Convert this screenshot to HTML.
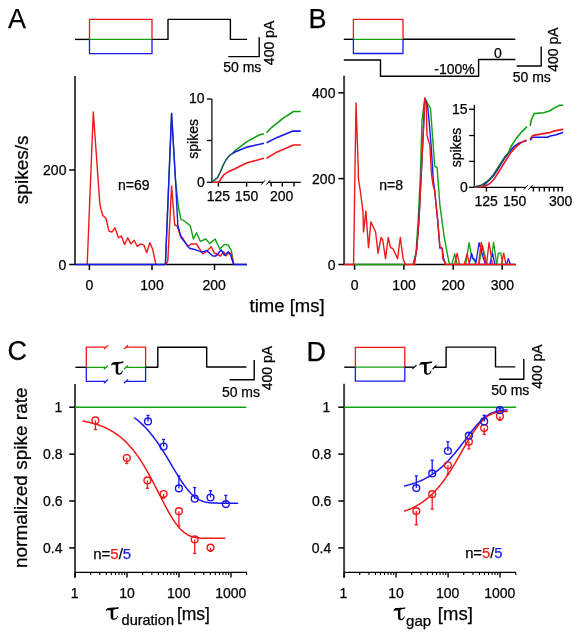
<!DOCTYPE html>
<html><head><meta charset="utf-8"><style>
html,body{margin:0;padding:0;background:#fff;}
svg{display:block;will-change:transform;}
text{font-family:"Liberation Sans",sans-serif;stroke-width:0.25px;}
path{stroke-linejoin:round;}
</style></head><body>
<svg width="580" height="637" viewBox="0 0 580 637">
<rect width="580" height="637" fill="#fff"/>
<text transform="translate(8.02,27.81) scale(1.0000,1)" font-size="27.00" fill="#000" stroke="#000">A</text>
<path d="M75.00,39.40 L89.50,39.40" stroke="#000" stroke-width="1.40" fill="none"/>
<path d="M89.50,39.40 L89.50,19.40 L152.00,19.40 L152.00,39.40" stroke="#f01818" stroke-width="1.30" fill="none"/>
<path d="M89.50,39.40 L152.00,39.40" stroke="#10a010" stroke-width="1.30" fill="none"/>
<path d="M89.50,39.40 L89.50,53.60 L152.00,53.60 L152.00,39.40" stroke="#1818f0" stroke-width="1.30" fill="none"/>
<path d="M152.00,39.40 L168.00,39.40 L168.00,19.40 L230.40,19.40 L230.40,39.40 L247.00,39.40" stroke="#000" stroke-width="1.40" fill="none"/>
<path d="M228.30,56.60 L259.20,56.60 L259.20,37.20" stroke="#000" stroke-width="1.40" fill="none"/>
<text transform="translate(223.24,71.58) scale(1.0000,1)" font-size="14.00" fill="#000" stroke="#000">50 ms</text>
<text transform="translate(273.68,65.13) rotate(-90) scale(1.0000,1)" font-size="14.00" fill="#000" stroke="#000">400 pA</text>
<path d="M75.00,75.90 L75.00,264.50" stroke="#474747" stroke-width="2.00" fill="none"/>
<path d="M69.20,170.00 L75.00,170.00" stroke="#000" stroke-width="1.50" fill="none"/>
<path d="M69.20,264.50 L75.00,264.50" stroke="#000" stroke-width="1.50" fill="none"/>
<text x="43.08" y="175.03" font-size="14.00" fill="#000" stroke="#000">200</text>
<text x="58.62" y="269.58" font-size="14.00" fill="#000" stroke="#000">0</text>
<path d="M75.00,264.50 L247.00,264.50" stroke="#000" stroke-width="1.40" fill="none"/>
<path d="M89.40,264.50 L89.40,270.00" stroke="#000" stroke-width="1.50" fill="none"/>
<path d="M152.00,264.50 L152.00,270.00" stroke="#000" stroke-width="1.50" fill="none"/>
<path d="M214.50,264.50 L214.50,270.00" stroke="#000" stroke-width="1.50" fill="none"/>
<text transform="translate(85.53,290.08) scale(1.0000,1)" font-size="14.00" fill="#000" stroke="#000">0</text>
<text transform="translate(140.31,290.43) scale(1.0000,1)" font-size="14.00" fill="#000" stroke="#000">100</text>
<text transform="translate(202.54,290.43) scale(1.0000,1)" font-size="14.00" fill="#000" stroke="#000">200</text>
<text transform="translate(27.59,204.15) rotate(-90) scale(1.0000,1)" font-size="19.00" fill="#000" stroke="#000">spikes/s</text>
<text transform="translate(117.96,190.08) scale(1.0000,1)" font-size="14.00" fill="#000" stroke="#000">n=69</text>
<text transform="translate(249.55,312.46) scale(1.0000,1)" font-size="18.50" fill="#000" stroke="#000">time [ms]</text>
<path d="M165.40,264.50 L171.60,113.50 L175.50,180.00 L178.60,208.00 L181.00,219.60 L183.30,220.30 L190.30,225.80 L193.40,239.00 L196.50,232.80 L200.30,241.30 L205.80,239.00 L209.70,243.60 L215.10,239.00 L219.70,249.00 L224.40,244.40 L228.30,245.20 L231.40,250.60 L233.70,264.50" stroke="#10a010" stroke-width="1.40" fill="none"/>
<path d="M87.20,264.50 L93.30,112.00 L99.80,203.40 L101.00,209.50 L102.80,215.50 L106.10,218.50 L108.90,231.20 L111.90,232.20 L114.90,227.80 L118.50,237.80 L121.30,236.00 L124.60,244.50 L127.80,237.80 L131.00,243.90 L134.20,240.30 L137.20,246.30 L140.90,243.90 L143.90,245.10 L146.70,252.70 L149.90,242.70 L152.70,249.30 L155.90,264.50" stroke="#f01818" stroke-width="1.40" fill="none"/>
<path d="M166.20,264.50 L167.80,260.70 L171.60,185.90 L174.70,225.00 L177.00,225.80 L180.20,235.00 L183.30,239.00 L187.90,246.70 L191.00,244.00 L196.50,244.00 L202.70,253.70 L206.60,251.40 L211.20,246.70 L214.30,253.00 L220.50,256.00 L223.60,251.70 L226.00,256.00 L229.00,252.20 L231.40,254.50 L233.70,264.50" stroke="#f01818" stroke-width="1.40" fill="none"/>
<path d="M75.00,264.50 L165.40,264.50" stroke="#1818f0" stroke-width="1.50" fill="none"/>
<path d="M233.70,264.50 L247.00,264.50" stroke="#1818f0" stroke-width="1.50" fill="none"/>
<path d="M165.40,264.50 L171.60,113.50 L175.50,180.00 L177.80,225.00 L181.00,237.40 L187.20,245.20 L189.50,248.30 L195.70,249.80 L201.90,252.20 L206.60,250.60 L212.80,256.00 L215.90,256.00 L221.30,249.80 L224.40,255.30 L228.30,251.70 L230.60,255.30 L233.70,264.50" stroke="#1818f0" stroke-width="1.40" fill="none"/>
<path d="M211.90,99.00 L211.90,182.30 L300.80,182.30" stroke="#000" stroke-width="1.20" fill="none"/>
<path d="M206.90,99.00 L211.90,99.00" stroke="#000" stroke-width="1.30" fill="none"/>
<path d="M206.90,140.50 L211.90,140.50" stroke="#000" stroke-width="1.30" fill="none"/>
<path d="M206.90,182.30 L211.90,182.30" stroke="#000" stroke-width="1.30" fill="none"/>
<path d="M218.40,182.30 L218.40,186.60" stroke="#000" stroke-width="1.40" fill="none"/>
<path d="M246.60,182.30 L246.60,186.60" stroke="#000" stroke-width="1.40" fill="none"/>
<path d="M271.20,182.30 L271.20,186.60" stroke="#000" stroke-width="1.40" fill="none"/>
<path d="M282.30,182.30 L282.30,186.60" stroke="#000" stroke-width="1.40" fill="none"/>
<path d="M294.00,182.30 L294.00,186.60" stroke="#000" stroke-width="1.40" fill="none"/>
<rect x="263.40" y="180.30" width="4.60" height="4" fill="#fff"/>
<path d="M261.20,184.70 L265.20,180.20" stroke="#000" stroke-width="1.00" fill="none"/>
<path d="M266.20,184.70 L270.20,180.20" stroke="#000" stroke-width="1.00" fill="none"/>
<text x="188.95" y="103.43" font-size="14.00" fill="#000" stroke="#000">10</text>
<text x="196.92" y="187.18" font-size="14.00" fill="#000" stroke="#000">0</text>
<text transform="translate(206.75,200.68) scale(1.0000,1)" font-size="14.00" fill="#000" stroke="#000">125</text>
<text transform="translate(234.87,200.68) scale(1.0000,1)" font-size="14.00" fill="#000" stroke="#000">150</text>
<text transform="translate(269.99,200.68) scale(1.0000,1)" font-size="14.00" fill="#000" stroke="#000">200</text>
<text transform="translate(197.60,158.76) rotate(-90) scale(1.0000,1)" font-size="14.00" fill="#000" stroke="#000">spikes</text>
<path d="M232.60,153.50 L235.00,150.70 L247.10,141.60 L259.10,135.00 L264.00,133.80" stroke="#10a010" stroke-width="1.60" fill="none"/>
<path d="M266.60,132.80 L271.20,127.80 L283.30,118.10 L293.50,111.50 L300.80,111.50" stroke="#10a010" stroke-width="1.60" fill="none"/>
<path d="M232.60,153.50 L235.00,151.90 L247.10,147.10 L264.00,143.20" stroke="#1818f0" stroke-width="1.60" fill="none"/>
<path d="M266.60,142.80 L277.20,137.40 L292.90,131.10 L300.80,131.10" stroke="#1818f0" stroke-width="1.60" fill="none"/>
<path d="M211.90,182.20 L218.80,182.20 L223.80,174.80 L228.80,171.40 L235.00,168.80 L247.10,162.80 L264.00,158.30" stroke="#f01818" stroke-width="1.60" fill="none"/>
<path d="M266.60,158.30 L277.20,151.90 L293.50,145.00 L300.80,145.00" stroke="#f01818" stroke-width="1.60" fill="none"/>
<path d="M211.90,182.20 L217.50,177.60 L220.00,172.60 L223.20,165.10 L226.30,159.40 L229.50,155.40 L232.60,153.50" stroke="#1c5a5a" stroke-width="1.60" fill="none"/>
<text transform="translate(308.42,27.81) scale(1.0000,1)" font-size="27.00" fill="#000" stroke="#000">B</text>
<path d="M343.80,39.30 L353.40,39.30" stroke="#000" stroke-width="1.40" fill="none"/>
<path d="M353.40,39.30 L353.40,19.40 L403.00,19.40 L403.00,39.30" stroke="#f01818" stroke-width="1.30" fill="none"/>
<path d="M353.40,39.30 L403.00,39.30" stroke="#10a010" stroke-width="1.30" fill="none"/>
<path d="M353.40,39.30 L353.40,53.50 L403.00,53.50 L403.00,39.30" stroke="#1818f0" stroke-width="1.30" fill="none"/>
<path d="M403.00,39.30 L515.30,39.30" stroke="#000" stroke-width="1.40" fill="none"/>
<path d="M343.80,60.00 L380.50,60.00 L380.50,76.30 L478.60,76.30 L478.60,59.50 L515.30,59.50" stroke="#000" stroke-width="1.40" fill="none"/>
<text transform="translate(434.30,74.03) scale(1.0000,1)" font-size="14.00" fill="#000" stroke="#000">-100%</text>
<text transform="translate(493.88,57.98) scale(1.0000,1)" font-size="14.00" fill="#000" stroke="#000">0</text>
<path d="M516.60,66.00 L541.20,66.00 L541.20,46.50" stroke="#000" stroke-width="1.40" fill="none"/>
<text transform="translate(512.74,81.53) scale(1.0000,1)" font-size="14.00" fill="#000" stroke="#000">50 ms</text>
<text transform="translate(557.58,71.83) rotate(-90) scale(1.0000,1)" font-size="14.00" fill="#000" stroke="#000">400 pA</text>
<path d="M344.10,75.70 L344.10,264.50" stroke="#474747" stroke-width="2.00" fill="none"/>
<path d="M338.30,92.80 L344.10,92.80" stroke="#000" stroke-width="1.50" fill="none"/>
<path d="M338.30,178.60 L344.10,178.60" stroke="#000" stroke-width="1.50" fill="none"/>
<path d="M338.30,264.50 L344.10,264.50" stroke="#000" stroke-width="1.50" fill="none"/>
<text x="312.08" y="98.13" font-size="14.00" fill="#000" stroke="#000">400</text>
<text x="312.08" y="183.78" font-size="14.00" fill="#000" stroke="#000">200</text>
<text x="327.72" y="269.78" font-size="14.00" fill="#000" stroke="#000">0</text>
<path d="M344.10,264.50 L515.70,264.50" stroke="#000" stroke-width="1.40" fill="none"/>
<path d="M354.60,264.50 L354.60,269.80" stroke="#000" stroke-width="1.50" fill="none"/>
<path d="M403.90,264.50 L403.90,269.80" stroke="#000" stroke-width="1.50" fill="none"/>
<path d="M453.20,264.50 L453.20,269.80" stroke="#000" stroke-width="1.50" fill="none"/>
<path d="M502.20,264.50 L502.20,269.80" stroke="#000" stroke-width="1.50" fill="none"/>
<text transform="translate(350.73,290.33) scale(1.0000,1)" font-size="14.00" fill="#000" stroke="#000">0</text>
<text transform="translate(392.37,290.33) scale(1.0000,1)" font-size="14.00" fill="#000" stroke="#000">100</text>
<text transform="translate(441.49,290.33) scale(1.0000,1)" font-size="14.00" fill="#000" stroke="#000">200</text>
<text transform="translate(490.71,290.33) scale(1.0000,1)" font-size="14.00" fill="#000" stroke="#000">300</text>
<text transform="translate(379.26,190.43) scale(1.0000,1)" font-size="14.00" fill="#000" stroke="#000">n=8</text>
<path d="M413.00,264.50 L416.00,252.60 L418.20,219.80 L420.40,175.00 L422.00,121.10 L424.80,98.20 L430.50,108.40 L434.70,166.30 L437.10,167.50 L437.60,175.00 L439.90,204.90 L444.30,237.70 L448.80,261.60 L450.30,264.50" stroke="#10a010" stroke-width="1.40" fill="none"/>
<path d="M414.20,264.50 L416.70,249.60 L419.00,219.80 L421.20,175.00 L424.10,115.40 L424.80,98.20 L427.70,107.00 L429.10,121.10 L431.20,146.50 L433.30,180.00 L434.60,189.90 L437.60,219.80 L439.90,248.10 L442.10,248.10 L443.60,258.60 L445.80,264.50" stroke="#1818f0" stroke-width="1.40" fill="none"/>
<path d="M414.20,264.50 L416.70,249.60 L419.00,219.80 L421.20,175.00 L424.10,115.40 L424.80,98.20 L426.30,105.50 L427.00,135.20 L429.80,145.10 L431.60,175.00 L433.10,185.40 L434.60,189.90 L437.60,219.80 L439.90,246.60 L442.10,248.10 L442.80,258.60 L445.80,264.50" stroke="#f01818" stroke-width="1.40" fill="none"/>
<path d="M354.60,264.50 L404.00,264.50" stroke="#10a010" stroke-width="1.50" fill="none"/>
<path d="M344.10,264.50 L354.60,264.50" stroke="#f01818" stroke-width="1.50" fill="none"/>
<path d="M404.00,264.50 L415.60,264.50" stroke="#f01818" stroke-width="1.50" fill="none"/>
<path d="M353.60,264.50 L356.00,103.00 L358.30,170.00 L358.30,177.80 L360.70,193.50 L363.00,212.40 L363.50,232.00 L365.90,211.10 L368.50,247.70 L370.90,221.80 L375.60,232.00 L378.00,253.20 L381.10,237.50 L382.70,239.80 L385.50,258.70 L388.20,237.50 L390.50,247.70 L392.90,248.50 L397.60,258.70 L400.30,237.50 L403.10,258.70 L405.40,264.50" stroke="#f01818" stroke-width="1.40" fill="none"/>
<path d="M451.90,264.50 L454.70,253.60 L457.10,264.50" stroke="#10a010" stroke-width="1.30" fill="none"/>
<path d="M465.70,264.50 L469.10,242.60 L471.90,257.80 L474.00,259.80 L475.30,262.60 L476.00,264.50" stroke="#10a010" stroke-width="1.30" fill="none"/>
<path d="M479.00,264.50 L482.40,245.10 L487.00,264.50" stroke="#10a010" stroke-width="1.30" fill="none"/>
<path d="M490.50,264.50 L493.60,242.40 L496.70,264.50" stroke="#10a010" stroke-width="1.30" fill="none"/>
<path d="M496.70,264.50 L498.30,253.20 L501.00,253.20 L502.50,264.50" stroke="#10a010" stroke-width="1.30" fill="none"/>
<path d="M469.10,264.50 L471.60,253.30 L473.30,259.10 L474.30,258.80 L476.00,262.60 L479.10,242.60 L482.60,255.70 L485.50,264.50" stroke="#1818f0" stroke-width="1.30" fill="none"/>
<path d="M490.00,264.50 L492.50,253.20 L495.00,264.50" stroke="#1818f0" stroke-width="1.30" fill="none"/>
<path d="M506.40,264.50 L508.40,258.70 L510.30,264.50" stroke="#1818f0" stroke-width="1.30" fill="none"/>
<path d="M454.70,264.50 L457.10,253.30 L459.50,264.50" stroke="#f01818" stroke-width="1.30" fill="none"/>
<path d="M464.30,264.50 L467.10,253.60 L469.50,264.50" stroke="#f01818" stroke-width="1.30" fill="none"/>
<path d="M478.50,264.50 L481.20,242.40 L485.90,264.50" stroke="#f01818" stroke-width="1.30" fill="none"/>
<path d="M486.60,264.50 L489.00,242.40 L492.50,264.50" stroke="#f01818" stroke-width="1.30" fill="none"/>
<path d="M501.40,264.50 L503.70,253.20 L506.00,264.50" stroke="#f01818" stroke-width="1.30" fill="none"/>
<path d="M444.70,264.50 L515.70,264.50" stroke="#f01818" stroke-width="1.50" fill="none"/>
<path d="M474.30,104.70 L474.30,187.30 L563.20,187.30" stroke="#000" stroke-width="1.20" fill="none"/>
<path d="M469.10,109.20 L474.30,109.20" stroke="#000" stroke-width="1.30" fill="none"/>
<path d="M469.10,135.50 L474.30,135.50" stroke="#000" stroke-width="1.30" fill="none"/>
<path d="M469.10,161.40 L474.30,161.40" stroke="#000" stroke-width="1.30" fill="none"/>
<path d="M469.10,187.30 L474.30,187.30" stroke="#000" stroke-width="1.30" fill="none"/>
<path d="M486.40,187.30 L486.40,191.50" stroke="#000" stroke-width="1.40" fill="none"/>
<path d="M515.00,187.30 L515.00,191.50" stroke="#000" stroke-width="1.40" fill="none"/>
<path d="M533.40,187.30 L533.40,191.50" stroke="#000" stroke-width="1.40" fill="none"/>
<path d="M539.40,187.30 L539.40,191.50" stroke="#000" stroke-width="1.40" fill="none"/>
<path d="M544.30,187.30 L544.30,191.50" stroke="#000" stroke-width="1.40" fill="none"/>
<path d="M549.30,187.30 L549.30,191.50" stroke="#000" stroke-width="1.40" fill="none"/>
<path d="M553.80,187.30 L553.80,191.50" stroke="#000" stroke-width="1.40" fill="none"/>
<path d="M558.20,187.30 L558.20,191.50" stroke="#000" stroke-width="1.40" fill="none"/>
<path d="M562.20,187.30 L562.20,191.50" stroke="#000" stroke-width="1.40" fill="none"/>
<rect x="526.00" y="185.30" width="4.30" height="4" fill="#fff"/>
<path d="M523.80,189.70 L527.80,185.20" stroke="#000" stroke-width="1.00" fill="none"/>
<path d="M528.50,189.70 L532.50,185.20" stroke="#000" stroke-width="1.00" fill="none"/>
<text x="451.92" y="113.66" font-size="14.00" fill="#000" stroke="#000">15</text>
<text x="460.02" y="191.63" font-size="14.00" fill="#000" stroke="#000">0</text>
<text transform="translate(474.40,206.38) scale(1.0000,1)" font-size="14.00" fill="#000" stroke="#000">125</text>
<text transform="translate(502.96,206.38) scale(1.0000,1)" font-size="14.00" fill="#000" stroke="#000">150</text>
<text transform="translate(548.96,206.38) scale(1.0000,1)" font-size="14.00" fill="#000" stroke="#000">300</text>
<text transform="translate(460.81,167.31) rotate(-90) scale(1.0000,1)" font-size="14.00" fill="#000" stroke="#000">spikes</text>
<path d="M474.20,187.30 L483.00,186.20 L494.00,175.20 L505.00,157.60 L508.30,153.20 L513.80,146.90 L518.20,143.60 L523.60,141.40 L526.50,140.80" stroke="#1818f0" stroke-width="1.60" fill="none"/>
<path d="M530.20,140.30 L532.50,137.30 L547.60,137.30 L550.20,136.00 L556.30,134.70 L562.70,132.60 L563.20,132.50" stroke="#1818f0" stroke-width="1.60" fill="none"/>
<path d="M474.20,187.30 L484.10,186.50 L489.60,183.70 L494.00,179.30 L499.50,170.50 L505.00,161.80 L510.50,153.00 L516.00,146.90 L521.50,142.50 L526.50,139.90" stroke="#f01818" stroke-width="1.60" fill="none"/>
<path d="M530.20,139.00 L532.50,135.60 L544.20,133.40 L550.20,132.60 L553.70,131.10 L562.70,129.40 L563.20,129.40" stroke="#f01818" stroke-width="1.60" fill="none"/>
<path d="M508.30,153.00 L510.50,147.50 L516.00,138.70 L521.50,132.10 L527.00,126.60" stroke="#10a010" stroke-width="1.60" fill="none"/>
<path d="M530.20,125.90 L531.20,120.00 L534.20,113.60 L543.30,112.70 L549.40,111.00 L553.70,108.40 L559.70,105.20 L563.20,105.20" stroke="#10a010" stroke-width="1.60" fill="none"/>
<path d="M474.20,187.10 L481.90,185.00 L488.50,180.40 L494.00,174.00 L499.50,165.30 L505.00,156.60 L508.30,153.00" stroke="#1a6040" stroke-width="1.60" fill="none"/>
<text transform="translate(7.58,360.31) scale(1.0000,1)" font-size="27.00" fill="#000" stroke="#000">C</text>
<path d="M75.40,367.30 L86.30,367.30" stroke="#000" stroke-width="1.40" fill="none"/>
<path d="M86.30,367.30 L86.30,347.20 L105.00,347.20" stroke="#f01818" stroke-width="1.30" fill="none"/>
<path d="M104.00,349.10 L108.00,345.30" stroke="#f01818" stroke-width="1.3" fill="none"/>
<path d="M126.00,347.20 L145.60,347.20 L145.60,367.30" stroke="#f01818" stroke-width="1.30" fill="none"/>
<path d="M124.00,349.10 L128.00,345.30" stroke="#f01818" stroke-width="1.3" fill="none"/>
<path d="M86.30,367.40 L105.00,367.40" stroke="#10a010" stroke-width="1.30" fill="none"/>
<path d="M104.00,369.30 L108.00,365.50" stroke="#10a010" stroke-width="1.3" fill="none"/>
<path d="M126.00,367.40 L145.60,367.40" stroke="#10a010" stroke-width="1.30" fill="none"/>
<path d="M124.00,369.30 L128.00,365.50" stroke="#10a010" stroke-width="1.3" fill="none"/>
<path d="M86.30,367.30 L86.30,381.30 L105.00,381.30" stroke="#1818f0" stroke-width="1.30" fill="none"/>
<path d="M104.00,383.20 L108.00,379.40" stroke="#1818f0" stroke-width="1.3" fill="none"/>
<path d="M126.00,381.30 L145.60,381.30 L145.60,367.30" stroke="#1818f0" stroke-width="1.30" fill="none"/>
<path d="M124.00,383.20 L128.00,379.40" stroke="#1818f0" stroke-width="1.3" fill="none"/>
<path transform="translate(110.90,361.20) scale(0.1260,0.1350)" d="M1,34 C3,20 8,10 20,8 C45,4 75,8 100,1 L97,14 C80,17 65,20 58,22 L58,78 C58,88 62,92 70,90 C78,88 84,80 92,68 L95,70 C90,88 82,100 64,100 C46,100 38,92 38,78 L38,26 C28,28 15,24 8,28 C5,30 3,33 1,34 Z" fill="#000" stroke="none"/>
<path d="M145.60,367.30 L157.80,367.30 L157.80,347.30 L206.70,347.30 L206.70,367.00 L246.40,367.00" stroke="#000" stroke-width="1.40" fill="none"/>
<path d="M229.60,379.80 L254.20,379.80 L254.20,360.10" stroke="#000" stroke-width="1.40" fill="none"/>
<text transform="translate(221.89,396.63) scale(1.0000,1)" font-size="14.00" fill="#000" stroke="#000">50 ms</text>
<text transform="translate(272.23,390.33) rotate(-90) scale(1.0000,1)" font-size="14.00" fill="#000" stroke="#000">400 pA</text>
<path d="M75.00,383.90 L75.00,577.80" stroke="#474747" stroke-width="2.00" fill="none"/>
<path d="M69.20,407.20 L75.00,407.20" stroke="#000" stroke-width="1.50" fill="none"/>
<path d="M69.20,454.10 L75.00,454.10" stroke="#000" stroke-width="1.50" fill="none"/>
<path d="M69.20,501.00 L75.00,501.00" stroke="#000" stroke-width="1.50" fill="none"/>
<path d="M69.20,547.90 L75.00,547.90" stroke="#000" stroke-width="1.50" fill="none"/>
<path d="M75.00,572.40 L247.00,572.40" stroke="#000" stroke-width="1.40" fill="none"/>
<path d="M75.00,572.40 L75.00,577.50" stroke="#000" stroke-width="1.40" fill="none"/>
<path d="M90.65,572.40 L90.65,575.00" stroke="#000" stroke-width="1.10" fill="none"/>
<path d="M99.81,572.40 L99.81,575.00" stroke="#000" stroke-width="1.10" fill="none"/>
<path d="M106.31,572.40 L106.31,575.00" stroke="#000" stroke-width="1.10" fill="none"/>
<path d="M111.35,572.40 L111.35,575.00" stroke="#000" stroke-width="1.10" fill="none"/>
<path d="M115.46,572.40 L115.46,575.00" stroke="#000" stroke-width="1.10" fill="none"/>
<path d="M118.95,572.40 L118.95,575.00" stroke="#000" stroke-width="1.10" fill="none"/>
<path d="M121.96,572.40 L121.96,575.00" stroke="#000" stroke-width="1.10" fill="none"/>
<path d="M124.62,572.40 L124.62,575.00" stroke="#000" stroke-width="1.10" fill="none"/>
<path d="M127.00,572.40 L127.00,577.50" stroke="#000" stroke-width="1.40" fill="none"/>
<path d="M142.65,572.40 L142.65,575.00" stroke="#000" stroke-width="1.10" fill="none"/>
<path d="M151.81,572.40 L151.81,575.00" stroke="#000" stroke-width="1.10" fill="none"/>
<path d="M158.31,572.40 L158.31,575.00" stroke="#000" stroke-width="1.10" fill="none"/>
<path d="M163.35,572.40 L163.35,575.00" stroke="#000" stroke-width="1.10" fill="none"/>
<path d="M167.46,572.40 L167.46,575.00" stroke="#000" stroke-width="1.10" fill="none"/>
<path d="M170.95,572.40 L170.95,575.00" stroke="#000" stroke-width="1.10" fill="none"/>
<path d="M173.96,572.40 L173.96,575.00" stroke="#000" stroke-width="1.10" fill="none"/>
<path d="M176.62,572.40 L176.62,575.00" stroke="#000" stroke-width="1.10" fill="none"/>
<path d="M179.00,572.40 L179.00,577.50" stroke="#000" stroke-width="1.40" fill="none"/>
<path d="M194.65,572.40 L194.65,575.00" stroke="#000" stroke-width="1.10" fill="none"/>
<path d="M203.81,572.40 L203.81,575.00" stroke="#000" stroke-width="1.10" fill="none"/>
<path d="M210.31,572.40 L210.31,575.00" stroke="#000" stroke-width="1.10" fill="none"/>
<path d="M215.35,572.40 L215.35,575.00" stroke="#000" stroke-width="1.10" fill="none"/>
<path d="M219.46,572.40 L219.46,575.00" stroke="#000" stroke-width="1.10" fill="none"/>
<path d="M222.95,572.40 L222.95,575.00" stroke="#000" stroke-width="1.10" fill="none"/>
<path d="M225.96,572.40 L225.96,575.00" stroke="#000" stroke-width="1.10" fill="none"/>
<path d="M228.62,572.40 L228.62,575.00" stroke="#000" stroke-width="1.10" fill="none"/>
<path d="M231.00,572.40 L231.00,577.50" stroke="#000" stroke-width="1.40" fill="none"/>
<path d="M246.65,572.40 L246.65,575.00" stroke="#000" stroke-width="1.10" fill="none"/>
<path d="M75.00,407.20 L246.20,407.20" stroke="#10a010" stroke-width="1.50" fill="none"/>
<text x="54.46" y="412.23" font-size="14.00" fill="#000" stroke="#000">1</text>
<text x="43.10" y="459.33" font-size="14.00" fill="#000" stroke="#000">0.8</text>
<text x="43.10" y="506.13" font-size="14.00" fill="#000" stroke="#000">0.6</text>
<text x="42.96" y="553.03" font-size="14.00" fill="#000" stroke="#000">0.4</text>
<text transform="translate(70.70,598.03) scale(1.0000,1)" font-size="14.00" fill="#000" stroke="#000">1</text>
<text transform="translate(119.15,598.03) scale(1.0000,1)" font-size="14.00" fill="#000" stroke="#000">10</text>
<text transform="translate(167.06,598.03) scale(1.0000,1)" font-size="14.00" fill="#000" stroke="#000">100</text>
<text transform="translate(215.15,598.03) scale(1.0000,1)" font-size="14.00" fill="#000" stroke="#000">1000</text>
<text transform="translate(27.44,568.04) rotate(-90) scale(1.0000,1)" font-size="19.00" fill="#000" stroke="#000">normalized spike rate</text>
<path transform="translate(105.60,606.90) scale(0.1320,0.1290)" d="M1,34 C3,20 8,10 20,8 C45,4 75,8 100,1 L97,14 C80,17 65,20 58,22 L58,78 C58,88 62,92 70,90 C78,88 84,80 92,68 L95,70 C90,88 82,100 64,100 C46,100 38,92 38,78 L38,26 C28,28 15,24 8,28 C5,30 3,33 1,34 Z" fill="#000" stroke="none"/>
<text transform="translate(121.57,624.78) scale(1.0000,1)" font-size="14.50" fill="#000" stroke="#000">duration</text>
<text transform="translate(176.91,620.11) scale(1.0000,1)" font-size="17.50" fill="#000" stroke="#000">[ms]</text>
<text transform="translate(93.24,558.56) scale(1.0000,1)" font-size="15.00" fill="#000" stroke="#000">n=<tspan fill="#f01818" stroke="#f01818">5</tspan>/<tspan fill="#1818f0" stroke="#1818f0">5</tspan></text>
<path d="M82.40,420.98 L84.21,421.31 L86.02,421.66 L87.83,422.05 L89.64,422.46 L91.44,422.91 L93.25,423.39 L95.06,423.91 L96.87,424.47 L98.68,425.07 L100.49,425.72 L102.30,426.42 L104.11,427.18 L105.92,427.99 L107.72,428.86 L109.53,429.80 L111.34,430.81 L113.15,431.89 L114.96,433.04 L116.77,434.28 L118.58,435.61 L120.39,437.03 L122.19,438.54 L124.00,440.16 L125.81,441.88 L127.62,443.71 L129.43,445.65 L131.24,447.71 L133.05,449.89 L134.86,452.20 L136.67,454.62 L138.47,457.18 L140.28,459.86 L142.09,462.66 L143.90,465.58 L145.71,468.62 L147.52,471.77 L149.33,475.02 L151.14,478.36 L152.95,481.78 L154.75,485.27 L156.56,488.81 L158.37,492.37 L160.18,495.95 L161.99,499.51 L163.80,503.03 L165.61,506.48 L167.42,509.84 L169.23,513.08 L171.03,516.17 L172.84,519.10 L174.65,521.84 L176.46,524.36 L178.27,526.66 L180.08,528.73 L181.89,530.55 L183.70,532.14 L185.51,533.49 L187.31,534.63 L189.12,535.55 L190.93,536.30 L192.74,536.87 L194.55,537.31 L196.36,537.64 L198.17,537.87 L199.98,538.03 L201.78,538.13 L203.59,538.20 L205.40,538.24 L207.21,538.26 L209.02,538.28 L210.83,538.28 L212.64,538.29 L214.45,538.29 L216.26,538.29 L218.06,538.29 L219.87,538.29 L221.68,538.29 L223.49,538.29 L225.30,538.29" stroke="#f01818" stroke-width="1.50" fill="none"/>
<path d="M134.10,417.54 L135.42,418.51 L136.74,419.53 L138.05,420.60 L139.37,421.72 L140.69,422.89 L142.01,424.11 L143.32,425.38 L144.64,426.71 L145.96,428.09 L147.28,429.53 L148.59,431.02 L149.91,432.57 L151.23,434.18 L152.55,435.84 L153.87,437.56 L155.18,439.34 L156.50,441.17 L157.82,443.05 L159.14,444.99 L160.45,446.97 L161.77,449.00 L163.09,451.07 L164.41,453.17 L165.73,455.31 L167.04,457.48 L168.36,459.68 L169.68,461.89 L171.00,464.11 L172.31,466.33 L173.63,468.55 L174.95,470.76 L176.27,472.94 L177.58,475.10 L178.90,477.22 L180.22,479.29 L181.54,481.30 L182.86,483.25 L184.17,485.13 L185.49,486.93 L186.81,488.64 L188.13,490.26 L189.44,491.78 L190.76,493.19 L192.08,494.50 L193.40,495.70 L194.72,496.79 L196.03,497.78 L197.35,498.65 L198.67,499.43 L199.99,500.10 L201.30,500.69 L202.62,501.19 L203.94,501.61 L205.26,501.95 L206.57,502.24 L207.89,502.47 L209.21,502.65 L210.53,502.79 L211.85,502.90 L213.16,502.98 L214.48,503.04 L215.80,503.08 L217.12,503.11 L218.43,503.13 L219.75,503.15 L221.07,503.16 L222.39,503.16 L223.71,503.16 L225.02,503.17 L226.34,503.17 L227.66,503.17 L228.98,503.17 L230.29,503.17 L231.61,503.17 L232.93,503.17 L234.25,503.17 L235.56,503.17 L236.88,503.17 L238.20,503.17" stroke="#1818f0" stroke-width="1.50" fill="none"/>
<path d="M95.40,420.40 L95.40,429.60" stroke="#f01818" stroke-width="1.30" fill="none"/>
<path d="M93.80,429.60 L97.00,429.60" stroke="#f01818" stroke-width="1.30" fill="none"/>
<circle cx="95.40" cy="420.40" r="3.4" stroke="#f01818" stroke-width="1.4" fill="none"/>
<path d="M126.80,458.00 L126.80,463.50" stroke="#f01818" stroke-width="1.30" fill="none"/>
<path d="M125.20,463.50 L128.40,463.50" stroke="#f01818" stroke-width="1.30" fill="none"/>
<circle cx="126.80" cy="458.00" r="3.4" stroke="#f01818" stroke-width="1.4" fill="none"/>
<path d="M147.40,480.40 L147.40,488.30" stroke="#f01818" stroke-width="1.30" fill="none"/>
<path d="M145.80,488.30 L149.00,488.30" stroke="#f01818" stroke-width="1.30" fill="none"/>
<circle cx="147.40" cy="480.40" r="3.4" stroke="#f01818" stroke-width="1.4" fill="none"/>
<path d="M163.60,494.00 L163.60,498.20" stroke="#f01818" stroke-width="1.30" fill="none"/>
<path d="M162.00,498.20 L165.20,498.20" stroke="#f01818" stroke-width="1.30" fill="none"/>
<circle cx="163.60" cy="494.00" r="3.4" stroke="#f01818" stroke-width="1.4" fill="none"/>
<path d="M178.90,511.20 L178.90,526.00" stroke="#f01818" stroke-width="1.30" fill="none"/>
<path d="M177.30,526.00 L180.50,526.00" stroke="#f01818" stroke-width="1.30" fill="none"/>
<circle cx="178.90" cy="511.20" r="3.4" stroke="#f01818" stroke-width="1.4" fill="none"/>
<path d="M194.70,539.40 L194.70,553.50" stroke="#f01818" stroke-width="1.30" fill="none"/>
<path d="M193.10,553.50 L196.30,553.50" stroke="#f01818" stroke-width="1.30" fill="none"/>
<circle cx="194.70" cy="539.40" r="3.4" stroke="#f01818" stroke-width="1.4" fill="none"/>
<path d="M210.50,547.60 L210.50,551.20" stroke="#f01818" stroke-width="1.30" fill="none"/>
<path d="M208.90,551.20 L212.10,551.20" stroke="#f01818" stroke-width="1.30" fill="none"/>
<circle cx="210.50" cy="547.60" r="3.4" stroke="#f01818" stroke-width="1.4" fill="none"/>
<path d="M148.00,421.40 L148.00,415.40" stroke="#1818f0" stroke-width="1.30" fill="none"/>
<path d="M146.40,415.40 L149.60,415.40" stroke="#1818f0" stroke-width="1.30" fill="none"/>
<circle cx="148.00" cy="421.40" r="3.4" stroke="#1818f0" stroke-width="1.4" fill="none"/>
<path d="M163.60,446.50 L163.60,439.40" stroke="#1818f0" stroke-width="1.30" fill="none"/>
<path d="M162.00,439.40 L165.20,439.40" stroke="#1818f0" stroke-width="1.30" fill="none"/>
<circle cx="163.60" cy="446.50" r="3.4" stroke="#1818f0" stroke-width="1.4" fill="none"/>
<path d="M178.90,488.40 L178.90,475.90" stroke="#1818f0" stroke-width="1.30" fill="none"/>
<path d="M177.30,475.90 L180.50,475.90" stroke="#1818f0" stroke-width="1.30" fill="none"/>
<circle cx="178.90" cy="488.40" r="3.4" stroke="#1818f0" stroke-width="1.4" fill="none"/>
<path d="M194.70,498.70 L194.70,487.60" stroke="#1818f0" stroke-width="1.30" fill="none"/>
<path d="M193.10,487.60 L196.30,487.60" stroke="#1818f0" stroke-width="1.30" fill="none"/>
<circle cx="194.70" cy="498.70" r="3.4" stroke="#1818f0" stroke-width="1.4" fill="none"/>
<path d="M210.50,497.50 L210.50,490.70" stroke="#1818f0" stroke-width="1.30" fill="none"/>
<path d="M208.90,490.70 L212.10,490.70" stroke="#1818f0" stroke-width="1.30" fill="none"/>
<circle cx="210.50" cy="497.50" r="3.4" stroke="#1818f0" stroke-width="1.4" fill="none"/>
<path d="M225.80,504.10 L225.80,495.40" stroke="#1818f0" stroke-width="1.30" fill="none"/>
<path d="M224.20,495.40 L227.40,495.40" stroke="#1818f0" stroke-width="1.30" fill="none"/>
<circle cx="225.80" cy="504.10" r="3.4" stroke="#1818f0" stroke-width="1.4" fill="none"/>
<text transform="translate(306.46,360.62) scale(1.0000,1)" font-size="27.00" fill="#000" stroke="#000">D</text>
<path d="M344.20,367.20 L355.40,367.20" stroke="#000" stroke-width="1.40" fill="none"/>
<path d="M355.40,367.20 L355.40,347.30 L404.80,347.30 L404.80,367.20" stroke="#f01818" stroke-width="1.30" fill="none"/>
<path d="M355.40,367.20 L404.80,367.20" stroke="#10a010" stroke-width="1.30" fill="none"/>
<path d="M355.40,367.20 L355.40,381.10 L404.80,381.10 L404.80,367.20" stroke="#1818f0" stroke-width="1.30" fill="none"/>
<path d="M404.80,367.20 L414.00,367.20" stroke="#000" stroke-width="1.40" fill="none"/>
<path d="M412.50,368.90 L416.50,365.10" stroke="#000" stroke-width="1.3" fill="none"/>
<path transform="translate(419.10,361.00) scale(0.1310,0.1380)" d="M1,34 C3,20 8,10 20,8 C45,4 75,8 100,1 L97,14 C80,17 65,20 58,22 L58,78 C58,88 62,92 70,90 C78,88 84,80 92,68 L95,70 C90,88 82,100 64,100 C46,100 38,92 38,78 L38,26 C28,28 15,24 8,28 C5,30 3,33 1,34 Z" fill="#000" stroke="none"/>
<path d="M432.50,369.10 L436.50,365.30" stroke="#000" stroke-width="1.3" fill="none"/>
<path d="M434.50,367.20 L446.10,367.20 L446.10,347.10 L495.50,347.10 L495.50,366.90 L515.30,366.90" stroke="#000" stroke-width="1.40" fill="none"/>
<path d="M499.10,379.20 L523.80,379.20 L523.80,359.10" stroke="#000" stroke-width="1.40" fill="none"/>
<text transform="translate(491.24,395.33) scale(1.0000,1)" font-size="14.00" fill="#000" stroke="#000">50 ms</text>
<text transform="translate(541.83,388.68) rotate(-90) scale(1.0000,1)" font-size="14.00" fill="#000" stroke="#000">400 pA</text>
<path d="M344.10,383.80 L344.10,577.80" stroke="#474747" stroke-width="2.00" fill="none"/>
<path d="M338.30,407.20 L344.10,407.20" stroke="#000" stroke-width="1.50" fill="none"/>
<path d="M338.30,454.10 L344.10,454.10" stroke="#000" stroke-width="1.50" fill="none"/>
<path d="M338.30,501.00 L344.10,501.00" stroke="#000" stroke-width="1.50" fill="none"/>
<path d="M338.30,547.90 L344.10,547.90" stroke="#000" stroke-width="1.50" fill="none"/>
<path d="M344.10,572.40 L516.10,572.40" stroke="#000" stroke-width="1.40" fill="none"/>
<path d="M344.10,572.40 L344.10,577.50" stroke="#000" stroke-width="1.40" fill="none"/>
<path d="M359.75,572.40 L359.75,575.00" stroke="#000" stroke-width="1.10" fill="none"/>
<path d="M368.91,572.40 L368.91,575.00" stroke="#000" stroke-width="1.10" fill="none"/>
<path d="M375.41,572.40 L375.41,575.00" stroke="#000" stroke-width="1.10" fill="none"/>
<path d="M380.45,572.40 L380.45,575.00" stroke="#000" stroke-width="1.10" fill="none"/>
<path d="M384.56,572.40 L384.56,575.00" stroke="#000" stroke-width="1.10" fill="none"/>
<path d="M388.05,572.40 L388.05,575.00" stroke="#000" stroke-width="1.10" fill="none"/>
<path d="M391.06,572.40 L391.06,575.00" stroke="#000" stroke-width="1.10" fill="none"/>
<path d="M393.72,572.40 L393.72,575.00" stroke="#000" stroke-width="1.10" fill="none"/>
<path d="M396.10,572.40 L396.10,577.50" stroke="#000" stroke-width="1.40" fill="none"/>
<path d="M411.75,572.40 L411.75,575.00" stroke="#000" stroke-width="1.10" fill="none"/>
<path d="M420.91,572.40 L420.91,575.00" stroke="#000" stroke-width="1.10" fill="none"/>
<path d="M427.41,572.40 L427.41,575.00" stroke="#000" stroke-width="1.10" fill="none"/>
<path d="M432.45,572.40 L432.45,575.00" stroke="#000" stroke-width="1.10" fill="none"/>
<path d="M436.56,572.40 L436.56,575.00" stroke="#000" stroke-width="1.10" fill="none"/>
<path d="M440.05,572.40 L440.05,575.00" stroke="#000" stroke-width="1.10" fill="none"/>
<path d="M443.06,572.40 L443.06,575.00" stroke="#000" stroke-width="1.10" fill="none"/>
<path d="M445.72,572.40 L445.72,575.00" stroke="#000" stroke-width="1.10" fill="none"/>
<path d="M448.10,572.40 L448.10,577.50" stroke="#000" stroke-width="1.40" fill="none"/>
<path d="M463.75,572.40 L463.75,575.00" stroke="#000" stroke-width="1.10" fill="none"/>
<path d="M472.91,572.40 L472.91,575.00" stroke="#000" stroke-width="1.10" fill="none"/>
<path d="M479.41,572.40 L479.41,575.00" stroke="#000" stroke-width="1.10" fill="none"/>
<path d="M484.45,572.40 L484.45,575.00" stroke="#000" stroke-width="1.10" fill="none"/>
<path d="M488.56,572.40 L488.56,575.00" stroke="#000" stroke-width="1.10" fill="none"/>
<path d="M492.05,572.40 L492.05,575.00" stroke="#000" stroke-width="1.10" fill="none"/>
<path d="M495.06,572.40 L495.06,575.00" stroke="#000" stroke-width="1.10" fill="none"/>
<path d="M497.72,572.40 L497.72,575.00" stroke="#000" stroke-width="1.10" fill="none"/>
<path d="M500.10,572.40 L500.10,577.50" stroke="#000" stroke-width="1.40" fill="none"/>
<path d="M515.75,572.40 L515.75,575.00" stroke="#000" stroke-width="1.10" fill="none"/>
<path d="M344.10,407.20 L516.20,407.20" stroke="#10a010" stroke-width="1.50" fill="none"/>
<text x="322.46" y="412.23" font-size="14.00" fill="#000" stroke="#000">1</text>
<text x="311.90" y="459.33" font-size="14.00" fill="#000" stroke="#000">0.8</text>
<text x="311.90" y="506.13" font-size="14.00" fill="#000" stroke="#000">0.6</text>
<text x="311.76" y="553.03" font-size="14.00" fill="#000" stroke="#000">0.4</text>
<text transform="translate(339.60,598.23) scale(1.0000,1)" font-size="14.00" fill="#000" stroke="#000">1</text>
<text transform="translate(388.25,598.23) scale(1.0000,1)" font-size="14.00" fill="#000" stroke="#000">10</text>
<text transform="translate(435.96,598.23) scale(1.0000,1)" font-size="14.00" fill="#000" stroke="#000">100</text>
<text transform="translate(484.25,598.23) scale(1.0000,1)" font-size="14.00" fill="#000" stroke="#000">1000</text>
<path transform="translate(393.40,607.00) scale(0.1200,0.1320)" d="M1,34 C3,20 8,10 20,8 C45,4 75,8 100,1 L97,14 C80,17 65,20 58,22 L58,78 C58,88 62,92 70,90 C78,88 84,80 92,68 L95,70 C90,88 82,100 64,100 C46,100 38,92 38,78 L38,26 C28,28 15,24 8,28 C5,30 3,33 1,34 Z" fill="#000" stroke="none"/>
<text transform="translate(406.06,625.98) scale(1.0000,1)" font-size="15.00" fill="#000" stroke="#000">gap</text>
<text transform="translate(437.86,619.66) scale(1.0000,1)" font-size="18.50" fill="#000" stroke="#000">[ms]</text>
<text transform="translate(465.14,558.29) scale(1.0000,1)" font-size="14.80" fill="#000" stroke="#000">n=<tspan fill="#f01818" stroke="#f01818">5</tspan>/<tspan fill="#1818f0" stroke="#1818f0">5</tspan></text>
<path d="M404.10,486.08 L405.41,485.77 L406.72,485.45 L408.03,485.11 L409.35,484.76 L410.66,484.38 L411.97,483.98 L413.28,483.56 L414.59,483.12 L415.90,482.66 L417.21,482.17 L418.53,481.65 L419.84,481.11 L421.15,480.54 L422.46,479.95 L423.77,479.32 L425.08,478.66 L426.39,477.96 L427.71,477.24 L429.02,476.48 L430.33,475.68 L431.64,474.84 L432.95,473.97 L434.26,473.06 L435.57,472.11 L436.88,471.11 L438.20,470.07 L439.51,469.00 L440.82,467.87 L442.13,466.71 L443.44,465.49 L444.75,464.24 L446.06,462.94 L447.38,461.60 L448.69,460.21 L450.00,458.78 L451.31,457.31 L452.62,455.80 L453.93,454.25 L455.24,452.67 L456.56,451.05 L457.87,449.41 L459.18,447.73 L460.49,446.03 L461.80,444.32 L463.11,442.59 L464.42,440.85 L465.74,439.11 L467.05,437.37 L468.36,435.64 L469.67,433.92 L470.98,432.23 L472.29,430.56 L473.60,428.93 L474.92,427.34 L476.23,425.80 L477.54,424.32 L478.85,422.89 L480.16,421.54 L481.47,420.25 L482.78,419.04 L484.09,417.91 L485.41,416.87 L486.72,415.90 L488.03,415.03 L489.34,414.23 L490.65,413.52 L491.96,412.89 L493.27,412.34 L494.59,411.86 L495.90,411.45 L497.21,411.11 L498.52,410.82 L499.83,410.58 L501.14,410.39 L502.45,410.24 L503.77,410.12 L505.08,410.02 L506.39,409.95 L507.70,409.90" stroke="#1818f0" stroke-width="1.50" fill="none"/>
<path d="M404.10,511.28 L405.41,510.82 L406.72,510.34 L408.03,509.83 L409.35,509.29 L410.66,508.73 L411.97,508.13 L413.28,507.50 L414.59,506.84 L415.90,506.15 L417.21,505.42 L418.53,504.65 L419.84,503.84 L421.15,503.00 L422.46,502.11 L423.77,501.17 L425.08,500.19 L426.39,499.17 L427.71,498.09 L429.02,496.97 L430.33,495.79 L431.64,494.56 L432.95,493.28 L434.26,491.94 L435.57,490.55 L436.88,489.10 L438.20,487.59 L439.51,486.02 L440.82,484.40 L442.13,482.71 L443.44,480.97 L444.75,479.17 L446.06,477.32 L447.38,475.40 L448.69,473.44 L450.00,471.42 L451.31,469.35 L452.62,467.24 L453.93,465.08 L455.24,462.89 L456.56,460.66 L457.87,458.41 L459.18,456.13 L460.49,453.83 L461.80,451.53 L463.11,449.22 L464.42,446.93 L465.74,444.64 L467.05,442.38 L468.36,440.15 L469.67,437.96 L470.98,435.83 L472.29,433.75 L473.60,431.74 L474.92,429.80 L476.23,427.95 L477.54,426.19 L478.85,424.53 L480.16,422.97 L481.47,421.52 L482.78,420.18 L484.09,418.95 L485.41,417.83 L486.72,416.83 L488.03,415.93 L489.34,415.14 L490.65,414.45 L491.96,413.85 L493.27,413.34 L494.59,412.91 L495.90,412.56 L497.21,412.27 L498.52,412.04 L499.83,411.85 L501.14,411.71 L502.45,411.60 L503.77,411.51 L505.08,411.45 L506.39,411.41 L507.70,411.38" stroke="#f01818" stroke-width="1.50" fill="none"/>
<path d="M416.30,511.10 L416.30,524.80" stroke="#f01818" stroke-width="1.30" fill="none"/>
<path d="M414.70,524.80 L417.90,524.80" stroke="#f01818" stroke-width="1.30" fill="none"/>
<circle cx="416.30" cy="511.10" r="3.4" stroke="#f01818" stroke-width="1.4" fill="none"/>
<path d="M432.20,494.20 L432.20,509.10" stroke="#f01818" stroke-width="1.30" fill="none"/>
<path d="M430.60,509.10 L433.80,509.10" stroke="#f01818" stroke-width="1.30" fill="none"/>
<circle cx="432.20" cy="494.20" r="3.4" stroke="#f01818" stroke-width="1.4" fill="none"/>
<path d="M447.90,465.30 L447.90,474.40" stroke="#f01818" stroke-width="1.30" fill="none"/>
<path d="M446.30,474.40 L449.50,474.40" stroke="#f01818" stroke-width="1.30" fill="none"/>
<circle cx="447.90" cy="465.30" r="3.4" stroke="#f01818" stroke-width="1.4" fill="none"/>
<path d="M468.90,441.80 L468.90,448.90" stroke="#f01818" stroke-width="1.30" fill="none"/>
<path d="M467.30,448.90 L470.50,448.90" stroke="#f01818" stroke-width="1.30" fill="none"/>
<circle cx="468.90" cy="441.80" r="3.4" stroke="#f01818" stroke-width="1.4" fill="none"/>
<path d="M484.20,428.10 L484.20,434.30" stroke="#f01818" stroke-width="1.30" fill="none"/>
<path d="M482.60,434.30 L485.80,434.30" stroke="#f01818" stroke-width="1.30" fill="none"/>
<circle cx="484.20" cy="428.10" r="3.4" stroke="#f01818" stroke-width="1.4" fill="none"/>
<path d="M499.90,416.30 L499.90,420.40" stroke="#f01818" stroke-width="1.30" fill="none"/>
<path d="M498.30,420.40 L501.50,420.40" stroke="#f01818" stroke-width="1.30" fill="none"/>
<circle cx="499.90" cy="416.30" r="3.4" stroke="#f01818" stroke-width="1.4" fill="none"/>
<path d="M416.30,488.10 L416.30,475.90" stroke="#1818f0" stroke-width="1.30" fill="none"/>
<path d="M414.70,475.90 L417.90,475.90" stroke="#1818f0" stroke-width="1.30" fill="none"/>
<circle cx="416.30" cy="488.10" r="3.4" stroke="#1818f0" stroke-width="1.4" fill="none"/>
<path d="M432.20,473.40 L432.20,460.20" stroke="#1818f0" stroke-width="1.30" fill="none"/>
<path d="M430.60,460.20 L433.80,460.20" stroke="#1818f0" stroke-width="1.30" fill="none"/>
<circle cx="432.20" cy="473.40" r="3.4" stroke="#1818f0" stroke-width="1.4" fill="none"/>
<path d="M447.90,451.00 L447.90,441.80" stroke="#1818f0" stroke-width="1.30" fill="none"/>
<path d="M446.30,441.80 L449.50,441.80" stroke="#1818f0" stroke-width="1.30" fill="none"/>
<circle cx="447.90" cy="451.00" r="3.4" stroke="#1818f0" stroke-width="1.4" fill="none"/>
<path d="M468.90,435.70 L468.90,432.60" stroke="#1818f0" stroke-width="1.30" fill="none"/>
<path d="M467.30,432.60 L470.50,432.60" stroke="#1818f0" stroke-width="1.30" fill="none"/>
<circle cx="468.90" cy="435.70" r="3.4" stroke="#1818f0" stroke-width="1.4" fill="none"/>
<path d="M484.20,421.40 L484.20,415.30" stroke="#1818f0" stroke-width="1.30" fill="none"/>
<path d="M482.60,415.30 L485.80,415.30" stroke="#1818f0" stroke-width="1.30" fill="none"/>
<circle cx="484.20" cy="421.40" r="3.4" stroke="#1818f0" stroke-width="1.4" fill="none"/>
<path d="M499.90,410.20 L499.90,408.50" stroke="#1818f0" stroke-width="1.30" fill="none"/>
<path d="M498.30,408.50 L501.50,408.50" stroke="#1818f0" stroke-width="1.30" fill="none"/>
<circle cx="499.90" cy="410.20" r="3.4" stroke="#1818f0" stroke-width="1.4" fill="none"/>
</svg></body></html>
